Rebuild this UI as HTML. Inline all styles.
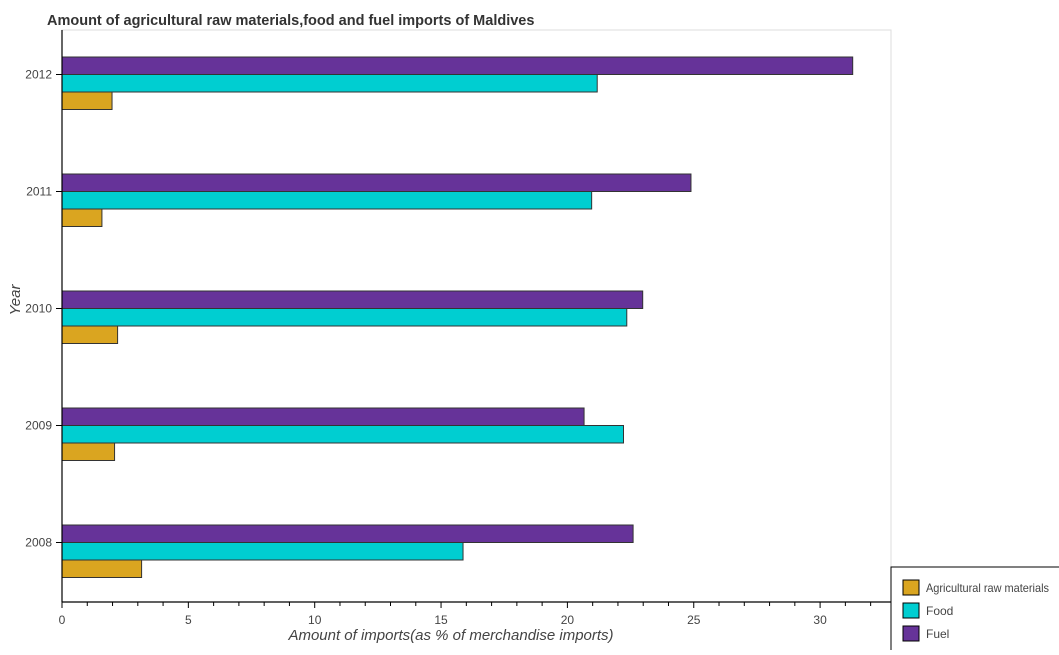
<!DOCTYPE html>
<html><head><meta charset="utf-8"><style>
body{margin:0;background:#fff;font-family:"Liberation Sans",sans-serif;}
</style></head><body>
<svg id="c" width="1059" height="650" xmlns="http://www.w3.org/2000/svg">
<text x="47" y="25" font-size="14.5" font-weight="bold" fill="#333">Amount of agricultural raw materials,food and fuel imports of Maldives</text>
<rect x="62" y="30" width="829" height="572" fill="#fff" stroke="#ddd"/>
<g id="bars"></g>
<g id="axes"></g>
<text x="451" y="640" font-size="15" font-style="italic" fill="#444" text-anchor="middle">Amount of imports(as % of merchandise imports)</text>
<text transform="translate(20,300) rotate(-90)" font-size="15" font-style="italic" fill="#444" text-anchor="middle">Year</text>
<g>
<rect x="891" y="567" width="170" height="85" fill="#fff" stroke="#000"/>
<rect x="903" y="580" width="16" height="15" fill="#DAA520" stroke="#000"/>
<text x="926" y="592" font-size="12" fill="#444" textLength="123" lengthAdjust="spacingAndGlyphs">Agricultural raw materials</text>
<rect x="903" y="603" width="16" height="15" fill="#00CED1" stroke="#000"/>
<text x="926" y="615" font-size="12" fill="#444">Food</text>
<rect x="903" y="626" width="16" height="15" fill="#663399" stroke="#000"/>
<text x="926" y="638" font-size="12" fill="#444">Fuel</text>
</g>
</svg>
<script>
const years=["2008","2009","2010","2011","2012"];
const agri=[3.15,2.08,2.2,1.58,1.98];
const food=[15.87,22.22,22.35,20.96,21.18];
const fuel=[22.6,20.66,22.98,24.89,31.29];
const xTicks=[0,5,10,15,20,25,30];
const NS="http://www.w3.org/2000/svg";
const x=v=>62+v*25.27;
const yc=i=>542.5-i*117;
const bh=17.5;
const bars=document.getElementById('bars');
const axes=document.getElementById('axes');
function mk(tag,attrs,parent){const e=document.createElementNS(NS,tag);for(const k in attrs)e.setAttribute(k,attrs[k]);parent.appendChild(e);return e;}
const series=[[fuel,"#663399",-bh,"fuel"],[food,"#00CED1",0,"food"],[agri,"#DAA520",bh,"agri"]];
years.forEach((yr,i)=>{
  series.forEach(s=>{
    const r=mk('rect',{x:x(0),y:yc(i)+s[2],width:x(s[0][i])-x(0),height:bh,fill:s[1],stroke:"#333","stroke-width":1},bars);
    
    
  });
  const t=mk('text',{x:52,y:yc(i)+4,"font-size":12,fill:"#444","text-anchor":"end"},axes);
  t.textContent=yr;
  
  
  mk('line',{x1:56,x2:62,y1:yc(i),y2:yc(i),stroke:"#000"},axes);
});
mk('line',{x1:62,x2:62,y1:30,y2:602,stroke:"#000","stroke-width":1.2},axes);
mk('line',{x1:62,x2:891,y1:602,y2:602,stroke:"#000","stroke-width":1.2},axes);
for(let v=0;v<=32;v++){mk('line',{x1:x(v),x2:x(v),y1:602,y2:v%5===0?608:606,stroke:"#000"},axes);}
xTicks.forEach(v=>{
  const t=mk('text',{x:x(v),y:624,"font-size":12,fill:"#444","text-anchor":"middle"},axes);
  t.textContent=v;
  
  
});
</script>
</body></html>
